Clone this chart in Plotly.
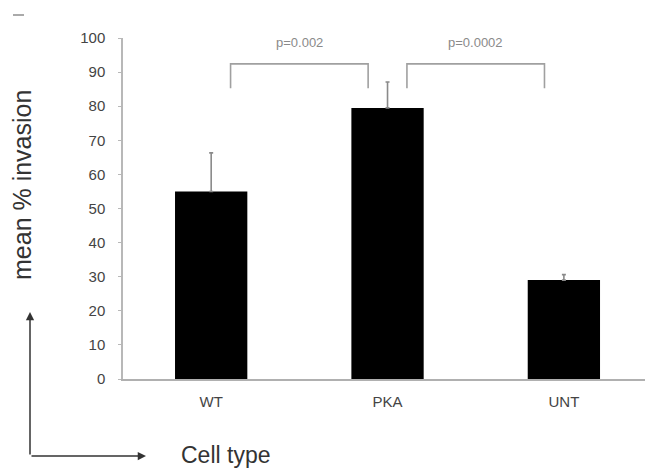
import plotly.graph_objects as go

# Mean invasion per cell type, with upward SEM bars
cell_types = ["WT", "PKA", "UNT"]
mean_invasion = [55, 79.5, 29]
sem = [11.3, 7.6, 1.6]

# Pairwise comparisons: (left index, right index, label)
comparisons = [(0, 1, "p=0.002"), (1, 2, "p=0.0002")]

y_ticks = list(range(0, 101, 10))

W, H = 645, 468
L, R, T, B = 123, 0, 38, 89
pw, ph = W - L - R, H - T - B

def px(x):
    return (x - L) / pw

def py(y):
    return (H - B - y) / ph

fig = go.Figure()
fig.add_trace(go.Bar(
    x=cell_types, y=mean_invasion,
    marker=dict(color="black", line=dict(width=0)),
    width=0.41,
    error_y=dict(type="data", symmetric=False, array=sem,
                 arrayminus=[0] * len(sem),
                 color="#8a8a8a", thickness=1.6, width=2),
))

# Significance brackets
for i, j, label in comparisons:
    x0, x1 = i + 0.11, j - 0.11
    fig.add_shape(type="path",
                  path=f"M {x0},85.3 L {x0},92.4 L {x1},92.4 L {x1},85.3",
                  xref="x", yref="y",
                  line=dict(color="#a0a0a0", width=1.6))
    fig.add_annotation(x=(x0 + x1) / 2, y=98.8, xref="x", yref="y",
                       text=label, showarrow=False,
                       font=dict(size=13, color="#8a8a8a",
                                 family="Liberation Sans"))

# Small stray mark in the top-left corner
fig.add_shape(type="line", xref="paper", yref="paper",
              x0=px(13), x1=px(24), y0=py(15), y1=py(15),
              line=dict(color="#aaaaaa", width=2))

# Corner arrows indicating the axes
fig.add_annotation(x=px(30), y=py(312), xref="paper", yref="paper",
                   ax=0, ay=144, axref="pixel", ayref="pixel",
                   showarrow=True, arrowhead=2, arrowsize=1.1,
                   arrowwidth=1.5, arrowcolor="#333333", text="")
fig.add_annotation(x=px(146), y=py(456), xref="paper", yref="paper",
                   ax=-116, ay=0, axref="pixel", ayref="pixel",
                   showarrow=True, arrowhead=2, arrowsize=1.1,
                   arrowwidth=1.5, arrowcolor="#333333", text="")
fig.add_annotation(x=px(179), y=py(455), xref="paper", yref="paper",
                   xanchor="left", yanchor="middle", showarrow=False,
                   text="Cell type",
                   font=dict(size=23, color="#333333",
                             family="Liberation Sans"))
fig.add_annotation(x=px(22), y=py(185), xref="paper", yref="paper",
                   xanchor="center", yanchor="middle", showarrow=False,
                   text="mean % invasion", textangle=-90,
                   font=dict(size=25, color="#333333",
                             family="Liberation Sans"))

fig.update_layout(
    width=W, height=H,
    margin=dict(l=L, r=R, t=T, b=B),
    paper_bgcolor="white", plot_bgcolor="white",
    showlegend=False,
    bargap=0.59,
    font=dict(family="Liberation Sans", color="#444444"),
    xaxis=dict(range=[-0.5, 2.46], showgrid=False, zeroline=False,
               showline=True, linecolor="#b0b0b0", linewidth=1.5,
               ticks="", ticklabelstandoff=8,
               tickfont=dict(size=15, color="#444444")),
    yaxis=dict(range=[0, 100], tickvals=y_ticks, showgrid=False,
               zeroline=False, showline=True, linecolor="#b8b8b8",
               linewidth=1.5, ticks="outside", ticklen=3,
               tickcolor="#b8b8b8", ticklabelstandoff=10,
               tickfont=dict(size=15, color="#444444")),
)

fig.write_html("out.html")
